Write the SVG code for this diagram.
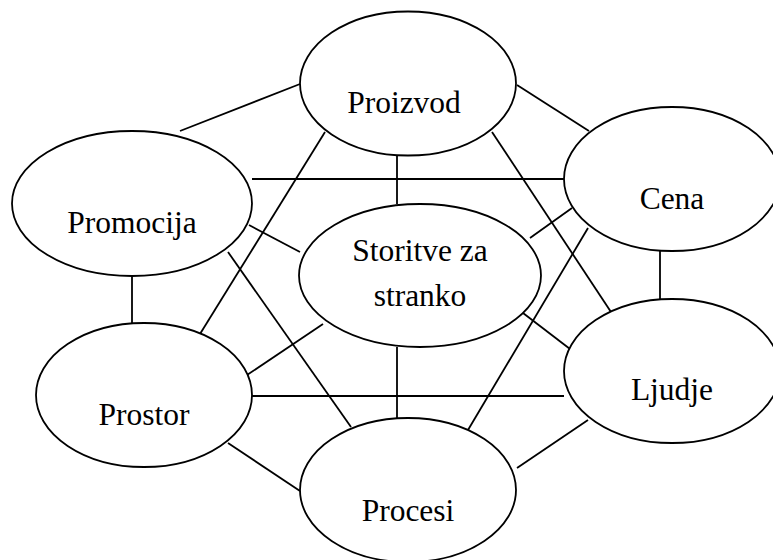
<svg xmlns="http://www.w3.org/2000/svg" width="773" height="560" viewBox="0 0 773 560">
<style>
.n ellipse{fill:#fff;stroke:#000;stroke-width:1.8}
.n text{font-family:"Liberation Serif","Times New Roman",serif;font-size:31.5px;fill:#000;text-anchor:middle}
#edges line{stroke:#000;stroke-width:1.8}
</style>
<rect width="773" height="560" fill="#fff"/>
<g id="edges">
<line x1="180" y1="131" x2="300" y2="84"/>
<line x1="517" y1="85" x2="589" y2="131"/>
<line x1="397" y1="155" x2="397" y2="204"/>
<line x1="252" y1="179" x2="564" y2="179"/>
<line x1="325" y1="132" x2="200" y2="334"/>
<line x1="492" y1="132" x2="611" y2="312"/>
<line x1="249" y1="225" x2="300" y2="252"/>
<line x1="228" y1="252" x2="351" y2="427"/>
<line x1="572" y1="208" x2="530" y2="238"/>
<line x1="588" y1="228" x2="468" y2="430"/>
<line x1="660" y1="251" x2="660" y2="299"/>
<line x1="132" y1="276" x2="132" y2="323"/>
<line x1="323" y1="324" x2="247" y2="375"/>
<line x1="252" y1="396" x2="564" y2="396"/>
<line x1="397" y1="347" x2="397" y2="419"/>
<line x1="523" y1="313" x2="570" y2="349"/>
<line x1="228" y1="443" x2="300" y2="491"/>
<line x1="588" y1="420" x2="517" y2="468"/>
</g>
<g id="proizvod" class="n"><ellipse cx="408" cy="83.5" rx="108" ry="72"/><text x="404" y="113">Proizvod</text></g>
<g id="cena" class="n"><ellipse cx="672" cy="179" rx="108" ry="72"/><text x="672" y="209">Cena</text></g>
<g id="promocija" class="n"><ellipse cx="132" cy="203.5" rx="120" ry="72.5"/><text x="132" y="233">Promocija</text></g>
<g id="storitve" class="n"><ellipse cx="420" cy="275.5" rx="121" ry="71.5"/><text x="420" y="261">Storitve za</text><text x="420" y="306">stranko</text></g>
<g id="prostor" class="n"><ellipse cx="144" cy="395" rx="108" ry="72"/><text x="144" y="425">Prostor</text></g>
<g id="ljudje" class="n"><ellipse cx="672" cy="371" rx="108" ry="72"/><text x="672" y="400">Ljudje</text></g>
<g id="procesi" class="n"><ellipse cx="408" cy="490" rx="108" ry="72"/><text x="408" y="521">Procesi</text></g>
</svg>
